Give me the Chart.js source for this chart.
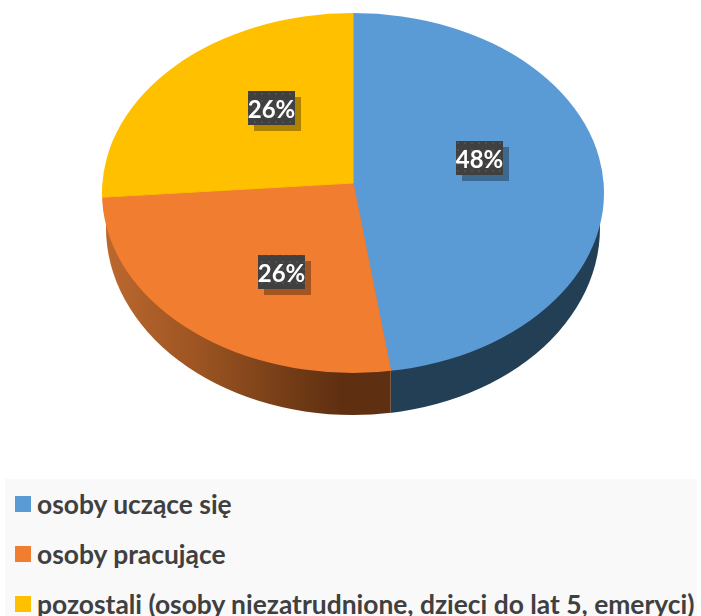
<!DOCTYPE html>
<html lang="pl">
<head>
<meta charset="utf-8">
<title>Wykres</title>
<script src="https://cdn.jsdelivr.net/npm/chart.js@4"></script>
<style>
  html, body { margin: 0; padding: 0; background: #fff; }
  #wrap { position: relative; width: 701px; height: 616px; overflow: hidden; }
  #pie { position: absolute; left: 0; top: 0; }
  #legend { position: absolute; left: 5px; top: 479px; width: 692px; height: 137px; background: #f9f9f9; }
  .item { position: absolute; left: 10px; white-space: nowrap; font: bold 26.4px Lato, sans-serif; color: #404040; height: 32px; line-height: 32px; }
  .item i { position: absolute; left: 0; top: 9px; width: 16px; height: 16px; }
  .item span { position: absolute; left: 22px; top: 1px; }
</style>
</head>
<body>
<div id="wrap">
  <canvas id="pie" width="701" height="616"></canvas>
  <div id="legend"></div>
</div>
<script>
const categories = ["osoby uczące się", "osoby pracujące", "pozostali (osoby niezatrudnione, dzieci do lat 5, emeryci)"];
const shares = [47.6, 26.2, 26.2];
const colors = ["#5b9bd5", "#f07d30", "#ffc000"];
const labelOffsets = [[126.5, -25], [-71.5, 89], [-81.5, -75]];

// widok 3D: elipsa gornej sciany i dolnej krawedzi
const apex = { x: 353, y: 183 };
const rim = { x: 353, y: 193, rx: 251, ry: 180 };
const foot = { x: 353, y: 228, rx: 247, ry: 187 };
const halfHeightTop = 170;
const halfHeightBottom = 190;

function wallStyle(ctx, index) {
  if (index === 0) return "#233f55";
  if (index === 2) return "#bc682e";
  const g = ctx.createLinearGradient(105, 0, 390, 0);
  g.addColorStop(0, "#bc682e");
  g.addColorStop(0.33, "#9c5422");
  g.addColorStop(0.68, "#6f3a15");
  g.addColorStop(0.83, "#5f2f11");
  g.addColorStop(1, "#5f2f11");
  return g;
}

function drawWalls(ctx, arcs) {
  arcs.forEach((arc, i) => {
    const start = Math.max(arc.startAngle, 0);
    const end = Math.min(arc.endAngle, Math.PI);
    if (end <= start) return;
    const x1 = apex.x + Math.cos(end) * rim.rx;
    const x2 = apex.x + Math.cos(start) * rim.rx;
    ctx.save();
    ctx.beginPath();
    ctx.rect(x1, 0, x2 - x1 + (start === 0 ? 10 : 0), 616);
    ctx.clip();
    ctx.beginPath();
    ctx.ellipse(foot.x, foot.y, foot.rx, foot.ry, 0, 0, Math.PI * 2);
    ctx.fillStyle = wallStyle(ctx, i);
    ctx.fill();
    ctx.restore();
  });
}

function drawFace(ctx, arcs, top, height, halfHeight) {
  ctx.save();
  ctx.beginPath();
  ctx.rect(0, top, 701, height);
  ctx.clip();
  ctx.beginPath();
  ctx.ellipse(rim.x, rim.y, rim.rx, rim.ry, 0, 0, Math.PI * 2);
  ctx.clip();
  arcs.forEach((arc) => {
    const k = 1.1 / arc.outerRadius;
    ctx.save();
    ctx.translate(apex.x, apex.y);
    ctx.scale(k * rim.rx, k * halfHeight);
    ctx.translate(-arc.x, -arc.y);
    arc.draw(ctx);
    ctx.restore();
  });
  ctx.restore();
}

function dotPattern(ctx) {
  const c = document.createElement("canvas");
  c.width = 7;
  c.height = 7;
  const p = c.getContext("2d");
  p.fillStyle = "#404040";
  p.fillRect(0, 0, 7, 7);
  p.fillStyle = "#4f4f4f";
  p.fillRect(2, 2, 2, 2);
  return ctx.createPattern(c, "repeat");
}

const pie3d = {
  id: "pie3d",
  beforeDatasetsDraw(chart) {
    const ctx = chart.ctx;
    const arcs = chart.getDatasetMeta(0).data;
    drawWalls(ctx, arcs);
    drawFace(ctx, arcs, 0, apex.y + 0.5, halfHeightTop);
    drawFace(ctx, arcs, apex.y, 300, halfHeightBottom);
    return false;
  },
  afterDraw(chart) {
    const ctx = chart.ctx;
    const pattern = dotPattern(ctx);
    shares.forEach((v, i) => {
      const cx = apex.x + labelOffsets[i][0];
      const cy = apex.y + labelOffsets[i][1];
      const x = cx - 23.5;
      const y = cy - 17;
      ctx.save();
      ctx.fillStyle = "rgba(0,0,0,0.32)";
      ctx.fillRect(x + 6, y + 6, 47, 34);
      ctx.fillStyle = pattern;
      ctx.fillRect(x, y, 47, 34);
      ctx.fillStyle = "#fff";
      ctx.font = "bold 24px Lato, sans-serif";
      ctx.textAlign = "center";
      ctx.textBaseline = "middle";
      ctx.fillText(Math.round(v) + "%", cx, cy + 2);
      ctx.restore();
    });
  }
};

new Chart(document.getElementById("pie"), {
  type: "pie",
  data: {
    labels: categories,
    datasets: [{ data: shares, backgroundColor: colors, borderColor: colors, borderWidth: 1 }]
  },
  options: {
    responsive: false,
    animation: false,
    layout: { padding: { left: 5, top: 57, bottom: 57 } },
    plugins: { legend: { display: false }, tooltip: { enabled: false } }
  },
  plugins: [pie3d]
});

// legenda
const legend = document.getElementById("legend");
categories.forEach((name, i) => {
  const row = document.createElement("div");
  row.className = "item";
  row.style.top = 8 + i * 50 + "px";
  const box = document.createElement("i");
  box.style.background = colors[i];
  const text = document.createElement("span");
  text.textContent = name;
  row.append(box, text);
  legend.appendChild(row);
});
</script>
</body>
</html>
